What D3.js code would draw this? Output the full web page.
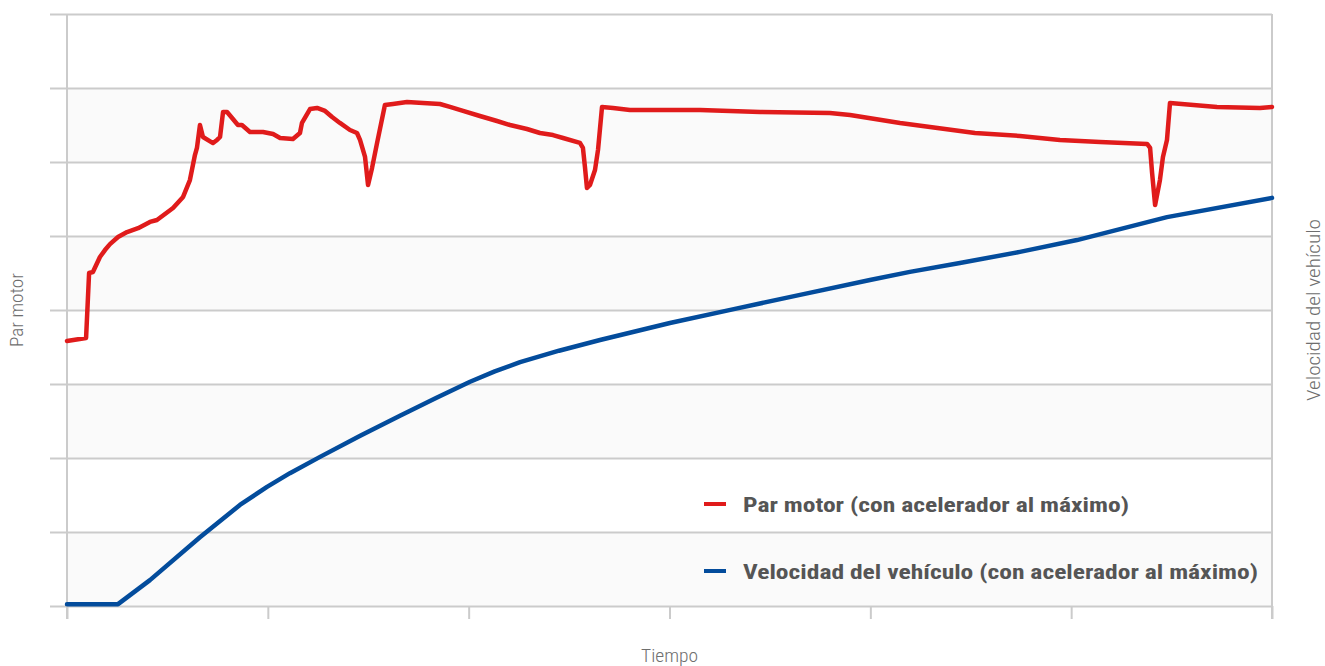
<!DOCTYPE html>
<html>
<head>
<meta charset="utf-8">
<script src="https://cdn.jsdelivr.net/npm/d3@7"></script>
<style>
	body { margin: 0; background: #fff; }
	svg { display: block; }
	.lbl { font-family: 'Roboto Condensed', 'Liberation Sans Narrow', sans-serif; font-weight: 300; fill: #6e6e6e; }
	.leg { font-family: 'Roboto Condensed', 'Liberation Sans Narrow', sans-serif; font-weight: bold; fill: #555; }
</style>
</head>
<body>
<svg></svg>
<script>
const W = 1325;
const H = 666;
const margin = { top: 14, right: 53, bottom: 60, left: 67 };
const w = W - margin.left - margin.right;
const h = H - margin.top - margin.bottom;

// time in s, torque in Nm, speed in km/h
const torqueTime = [0, 0.95, 1.1, 1.29, 1.64, 1.89, 2.14, 2.54, 2.99, 3.54, 4.13, 4.48, 5.28, 5.78, 6.12, 6.37, 6.47, 6.62, 6.77, 7.27, 7.47, 7.62, 7.77, 7.97, 8.22, 8.51, 8.71, 9.11, 9.76, 10.26, 10.61, 11.25, 11.6, 11.7, 12.1, 12.45, 12.85, 13.2, 13.59, 14.09, 14.44, 14.59, 14.84, 14.99, 15.19, 15.44, 15.83, 16.23, 16.93, 17.73, 18.57, 19.07, 19.72, 20.56, 21.41, 22.06, 22.9, 23.55, 24.2, 24.7, 25.54, 25.69, 25.79, 25.89, 26.04, 26.29, 26.44, 26.64, 27.19, 28.03, 31.52, 34.51, 37.99, 38.99, 41.48, 45.21, 47.45, 49.44, 51.44, 53.78, 53.93, 54.03, 54.18, 54.42, 54.57, 54.77, 54.92, 57.26, 59.4, 60];
const torque = [179.1, 181.1, 225.0, 225.7, 235.8, 240.5, 244.5, 249.3, 252.7, 255.3, 259.5, 260.8, 268.9, 276.4, 287.8, 304.7, 309.5, 325.0, 316.9, 312.8, 314.9, 316.9, 333.8, 333.8, 329.7, 325.0, 325.0, 320.3, 320.3, 318.9, 316.2, 315.5, 319.6, 326.4, 335.8, 336.5, 334.5, 330.4, 326.4, 321.6, 319.6, 314.9, 303.4, 284.5, 296.0, 312.9, 338.5, 339.2, 340.5, 339.9, 339.2, 337.2, 334.5, 331.1, 327.7, 325.0, 322.3, 319.6, 318.2, 316.2, 312.9, 309.5, 296.6, 282.4, 284.5, 294.6, 308.1, 337.2, 336.5, 335.2, 335.2, 333.8, 333.1, 331.8, 326.4, 319.6, 317.6, 314.9, 313.5, 312.2, 309.5, 292.6, 270.9, 287.8, 303.4, 314.9, 339.9, 337.2, 336.5, 337.2];

const speedTime = [0, 2.54, 4.13, 6.62, 8.61, 9.96, 11.1, 12.6, 14.6, 16.58, 18.4, 20.07, 21.3, 22.56, 24.5, 26.54, 30.02, 33.26, 36.5, 39.98, 41.97, 44.46, 47.45, 50.29, 54.77, 60];
const speed = [0.5, 0.5, 7.0, 18.6, 27.3, 32.2, 35.9, 40.3, 46.0, 51.4, 56.3, 60.6, 63.4, 65.9, 69.0, 71.9, 76.5, 80.3, 84.1, 88.1, 90.3, 92.7, 95.7, 98.9, 105.1, 110.3];

const timeTicks = [0, 10, 20, 30, 40, 50, 60];
const torqueTicks = [0, 50, 100, 150, 200, 250, 300, 350, 400];
const bands = [[0, 50], [100, 150], [200, 250], [300, 350]];

const seriesNames = ['Par motor (con acelerador al máximo)', 'Velocidad del vehículo (con acelerador al máximo)'];
const seriesColors = ['#e01b1b', '#034c9c'];
const legendWidths = [386, 515];

const xScale = d3.scaleLinear().domain([0, 60]).range([0, w]);
const yScale = d3.scaleLinear().domain([0, 400]).range([h, 0]);
const y2Scale = d3.scaleLinear().domain([0, 160]).range([h, 0]);

const svg = d3.select('svg').attr('width', W).attr('height', H);
const g = svg.append('g').attr('transform', `translate(${margin.left},${margin.top})`);

// light bands
g.selectAll('rect.band')
	.data(bands)
	.enter()
	.append('rect')
	.attr('class', 'band')
	.attr('x', 0)
	.attr('width', w)
	.attr('y', (d) => yScale(d[1]))
	.attr('height', (d) => yScale(d[0]) - yScale(d[1]))
	.attr('fill', '#fafafa');

// horizontal grid with short ticks on the left
const yAxis = d3.axisLeft(yScale).tickValues(torqueTicks).tickSize(-(w + 17)).tickFormat('');
g.append('g')
	.attr('transform', 'translate(-17,0)')
	.call(yAxis)
	.call((s) => s.select('.domain').remove())
	.call((s) => s.selectAll('line').attr('stroke', '#cbcbcb').attr('stroke-width', 2));

// bottom ticks
const xAxis = d3.axisBottom(xScale).tickValues(timeTicks).tickSize(13).tickSizeOuter(0).tickFormat('');
g.append('g')
	.attr('transform', `translate(0,${h})`)
	.call(xAxis)
	.call((s) => s.select('.domain').remove())
	.call((s) => s.selectAll('line').attr('stroke', '#cbcbcb').attr('stroke-width', 2));

// side lines
[0, w].forEach((x) => {
	g.append('line')
		.attr('x1', x)
		.attr('x2', x)
		.attr('y1', 0)
		.attr('y2', h + 13)
		.attr('stroke', '#cbcbcb')
		.attr('stroke-width', 2);
});

const torqueLine = d3
	.line()
	.x((d, i) => xScale(torqueTime[i]))
	.y((d) => yScale(d));

const speedLine = d3
	.line()
	.x((d, i) => xScale(speedTime[i]))
	.y((d) => y2Scale(d));

g.append('path')
	.datum(speed)
	.attr('d', speedLine)
	.attr('fill', 'none')
	.attr('stroke', seriesColors[1])
	.attr('stroke-width', 4.5)
	.attr('stroke-linecap', 'round')
	.attr('stroke-linejoin', 'round');

g.append('path')
	.datum(torque)
	.attr('d', torqueLine)
	.attr('fill', 'none')
	.attr('stroke', seriesColors[0])
	.attr('stroke-width', 4.5)
	.attr('stroke-linecap', 'round')
	.attr('stroke-linejoin', 'round');

// legend
const legend = svg.append('g').attr('transform', 'translate(704,504)');
seriesNames.forEach((name, i) => {
	const row = legend.append('g').attr('transform', `translate(0,${i * 67})`);
	row.append('line')
		.attr('x1', 0)
		.attr('x2', 22)
		.attr('stroke', seriesColors[i])
		.attr('stroke-width', 4);
	row.append('text')
		.attr('class', 'leg')
		.attr('x', 39)
		.attr('y', 8)
		.attr('font-size', '21px')
		.attr('textLength', legendWidths[i])
		.attr('lengthAdjust', 'spacingAndGlyphs')
		.text(name);
});

// axis titles
svg.append('text')
	.attr('class', 'lbl')
	.attr('font-size', '18px')
	.attr('text-anchor', 'middle')
	.attr('textLength', 74)
	.attr('lengthAdjust', 'spacingAndGlyphs')
	.attr('transform', `translate(23,${margin.top + h / 2}) rotate(-90)`)
	.text('Par motor');

svg.append('text')
	.attr('class', 'lbl')
	.attr('font-size', '18px')
	.attr('text-anchor', 'middle')
	.attr('textLength', 182)
	.attr('lengthAdjust', 'spacingAndGlyphs')
	.attr('transform', `translate(1320,${margin.top + h / 2}) rotate(-90)`)
	.text('Velocidad del vehículo');

svg.append('text')
	.attr('class', 'lbl')
	.attr('font-size', '18px')
	.attr('text-anchor', 'middle')
	.attr('textLength', 57)
	.attr('lengthAdjust', 'spacingAndGlyphs')
	.attr('x', margin.left + w / 2)
	.attr('y', 662)
	.text('Tiempo');
</script>
</body>
</html>
